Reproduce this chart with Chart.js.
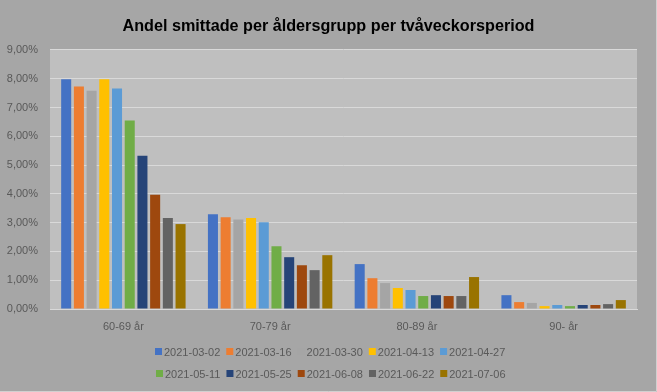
<!DOCTYPE html>
<html>
<head>
<meta charset="utf-8">
<script src="https://cdn.jsdelivr.net/npm/chart.js@4/dist/chart.umd.min.js"></script>
<style>
  html, body { margin: 0; padding: 0; background: #a6a6a6; }
  #wrap { width: 657px; height: 392px; position: relative; }
</style>
</head>
<body>
<div id="wrap"><canvas id="chart" width="657" height="392"></canvas></div>
<script>
const AGE_GROUPS = ['60-69 år', '70-79 år', '80-89 år', '90- år'];
const PERIODS = ['2021-03-02', '2021-03-16', '2021-03-30', '2021-04-13', '2021-04-27',
                 '2021-05-11', '2021-05-25', '2021-06-08', '2021-06-22', '2021-07-06'];
const PERIOD_COLORS = ['#4472c4', '#ed7d31', '#a5a5a5', '#ffc000', '#5b9bd5',
                       '#70ad47', '#264478', '#9e480e', '#636363', '#997300'];

// share (%) per period, one value per age group
const SHARE = [
  [7.98, 3.29, 1.56, 0.48],
  [7.73, 3.19, 1.07, 0.24],
  [7.58, 3.11, 0.90, 0.21],
  [7.98, 3.16, 0.73, 0.10],
  [7.66, 3.01, 0.66, 0.14],
  [6.55, 2.18, 0.45, 0.10],
  [5.32, 1.80, 0.48, 0.14],
  [3.97, 1.52, 0.45, 0.14],
  [3.16, 1.35, 0.45, 0.17],
  [2.95, 1.87, 1.11, 0.31],
];
const Y_MAX = 9;
const Y_STEP = 1;

const INK = '#595959';
const FONT = '"Liberation Sans", Arial, sans-serif';

const backdrop = {
  id: 'backdrop',
  beforeDraw(chart) {
    const { ctx, chartArea: a, width, height } = chart;
    ctx.save();
    ctx.fillStyle = '#a6a6a6';
    ctx.fillRect(0, 0, width, height);
    ctx.strokeStyle = '#d0d0d0';
    ctx.lineWidth = 1;
    ctx.beginPath();
    ctx.moveTo(width - 0.5, 0);
    ctx.lineTo(width - 0.5, height - 0.5);
    ctx.lineTo(0, height - 0.5);
    ctx.stroke();
    ctx.fillStyle = '#bfbfbf';
    ctx.fillRect(a.left, a.top, a.right - a.left, a.bottom - a.top);
    ctx.restore();
  }
};

// two rows of five, like the original
const rowLegend = {
  id: 'rowLegend',
  afterDraw(chart) {
    const { ctx, width } = chart;
    const perRow = 5, box = 7, gapText = 2, gapItem = 6;
    const rowsY = [352, 374];
    ctx.save();
    ctx.font = '11px ' + FONT;
    ctx.textBaseline = 'middle';
    const items = chart.data.datasets.map(d => ({ label: d.label, color: d.backgroundColor }));
    for (let r = 0; r * perRow < items.length; r++) {
      const row = items.slice(r * perRow, r * perRow + perRow);
      const widths = row.map(it => box + gapText + ctx.measureText(it.label).width);
      const total = widths.reduce((s, w) => s + w, 0) + gapItem * (row.length - 1);
      let x = Math.round(width / 2 - total / 2 + 2);
      const y = rowsY[r];
      row.forEach((it, i) => {
        ctx.fillStyle = it.color;
        ctx.fillRect(x, y - 4, box, box);
        ctx.fillStyle = INK;
        ctx.fillText(it.label, x + box + gapText, y + 0.5);
        x += widths[i] + gapItem;
      });
    }
    ctx.restore();
  }
};

new Chart(document.getElementById('chart'), {
  type: 'bar',
  data: {
    labels: AGE_GROUPS,
    datasets: PERIODS.map((p, i) => ({
      label: p,
      data: SHARE[i],
      backgroundColor: PERIOD_COLORS[i],
      borderWidth: 0,
      categoryPercentage: 0.866,
      barPercentage: 0.79,
    })),
  },
  options: {
    responsive: false,
    animation: false,
    layout: { padding: 0 },
    plugins: {
      legend: { display: false },
      tooltip: { enabled: false },
      title: {
        display: true,
        text: 'Andel smittade per åldersgrupp per tvåveckorsperiod',
        color: '#000000',
        font: { family: FONT, size: 16.2, weight: 'bold', lineHeight: 1.2 },
        padding: { top: 17, bottom: 13.5 },
      },
    },
    scales: {
      x: {
        grid: { display: false, drawTicks: false },
        border: { color: '#d9d9d9', width: 1 },
        ticks: { color: INK, font: { family: FONT, size: 11 }, padding: 11, maxRotation: 0 },
        afterFit(s) { s.height = 83; },
      },
      y: {
        min: 0,
        max: Y_MAX,
        ticks: {
          stepSize: Y_STEP,
          color: INK,
          font: { family: FONT, size: 11 },
          padding: 12,
          callback: v => v.toFixed(2).replace('.', ',') + '%',
        },
        grid: { color: '#d9d9d9', lineWidth: 1, drawTicks: false },
        border: { display: false },
        afterFit(s) { s.width = 50; },
      },
      // empty right margin so the title stays centred on the full width
      margin: {
        type: 'linear',
        position: 'right',
        min: 0,
        max: 1,
        ticks: { display: false },
        grid: { display: false, drawTicks: false },
        border: { display: false },
        afterFit(s) { s.width = 20; },
      },
    },
  },
  plugins: [backdrop, rowLegend],
});
</script>
</body>
</html>
